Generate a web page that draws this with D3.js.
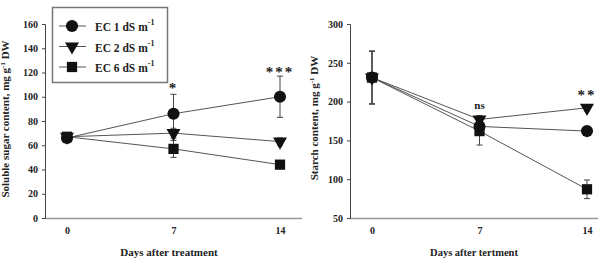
<!DOCTYPE html>
<html>
<head>
  <meta charset="utf-8">
  <style>
    body { margin: 0; background: #fff; }
    text { font-family: "Liberation Serif", serif; font-weight: bold; fill: #222; }
  </style>
</head>
<body>
  <script src="https://d3js.org/d3.v7.min.js"></script>
  <script>
    var days = [0, 7, 14];
    var seriesNames = ["EC 1 dS m", "EC 2 dS m", "EC 6 dS m"];
    var symbols = [d3.symbolCircle, d3.symbolTriangle, d3.symbolSquare];
    var symSizes = [115, 85, 105];

    var sugarEC1 = [66, 86, 100], sugarEC1Err = [2, 16, 17];
    var sugarEC2 = [67, 70, 63], sugarEC2Err = [2, 4, 3];
    var sugarEC6 = [67, 57, 44], sugarEC6Err = [2, 7, 3];
    var sugarTicks = [0, 20, 40, 60, 80, 100, 120, 140, 160];
    var sugarSig = ["", "*", "***"];

    var starchEC1 = [231, 168, 162], starchEC1Err = [34, 5, 4];
    var starchEC2 = [231, 177, 192], starchEC2Err = [34, 5, 4];
    var starchEC6 = [231, 162, 87], starchEC6Err = [34, 18, 12];
    var starchTicks = [50, 100, 150, 200, 250, 300];
    var starchSig = ["", "ns", "**"];

    var svg = d3.select("body").append("svg")
      .attr("width", 613)
      .attr("height", 261);

    function marker(sel, k) {
      return sel.append("path")
        .attr("d", d3.symbol().type(symbols[k]).size(symSizes[k])())
        .attr("fill", "#111");
    }

    function panel(opts) {
      var x = d3.scaleLinear().domain([0, 14]).range(opts.xr);
      var y = d3.scaleLinear().domain(opts.yd).range([218, 24]);
      var g = svg.append("g");

      // x axis line (grey, no ticks)
      g.append("line")
        .attr("x1", opts.ax).attr("x2", opts.xEnd)
        .attr("y1", 218.5).attr("y2", 218.5)
        .attr("stroke", "#999").attr("stroke-width", 1.5);

      var yAxis = g.append("g")
        .attr("transform", "translate(" + opts.ax + ",0)")
        .call(d3.axisLeft(y).tickValues(opts.ticks).tickSize(3).tickPadding(4));
      yAxis.select(".domain").attr("stroke", "#444");
      yAxis.selectAll(".tick line").attr("stroke", "#444");
      yAxis.selectAll("text").style("font-size", "10px").attr("fill", "#222")
        .style("font-family", "Liberation Serif").style("font-weight", "bold");

      var xAxis = g.append("g")
        .attr("transform", "translate(0,218)")
        .call(d3.axisBottom(x).tickValues(days).tickSize(0).tickPadding(9));
      xAxis.select(".domain").remove();
      xAxis.selectAll("text").style("font-size", "10px").attr("fill", "#222")
        .style("font-family", "Liberation Serif").style("font-weight", "bold");

      g.append("text")
        .attr("x", opts.titleX).attr("y", 256)
        .attr("text-anchor", "middle")
        .style("font-size", opts.titleSize)
        .text(opts.xTitle);

      var yt = g.append("text")
        .attr("transform", "translate(" + opts.yTitleX + "," + opts.yTitleY + ") rotate(-90)")
        .attr("text-anchor", "middle")
        .style("font-size", "11px");
      yt.append("tspan").text(opts.yTitle + ", mg g");
      yt.append("tspan").attr("dy", -4).style("font-size", "7px").text("-1");
      yt.append("tspan").attr("dy", 4).text(" DW");

      var line = d3.line()
        .x(function(d, i) { return x(days[i]); })
        .y(function(d) { return y(d); });

      opts.series.forEach(function(s) {
        g.append("path")
          .datum(s.v)
          .attr("d", line)
          .attr("fill", "none")
          .attr("stroke", "#555")
          .attr("stroke-width", 1);
      });

      opts.series.forEach(function(s) {
        s.v.forEach(function(v, i) {
          var cx = x(days[i]);
          g.append("line")
            .attr("x1", cx).attr("x2", cx)
            .attr("y1", y(v - s.e[i])).attr("y2", y(v + s.e[i]))
            .attr("stroke", "#444");
          [v - s.e[i], v + s.e[i]].forEach(function(ev) {
            g.append("line")
              .attr("x1", cx - 3).attr("x2", cx + 3)
              .attr("y1", y(ev)).attr("y2", y(ev))
              .attr("stroke", "#444");
          });
        });
      });

      opts.series.forEach(function(s, k) {
        s.v.forEach(function(v, i) {
          marker(g, k)
            .attr("transform", "translate(" + x(days[i]) + "," + y(v) + ")" + (k === 1 ? " rotate(180)" : ""));
        });
      });

      opts.sig.forEach(function(t, i) {
        if (!t) return;
        g.append("text")
          .attr("x", x(days[i])).attr("y", opts.sigY[i])
          .attr("text-anchor", "middle")
          .style("font-size", t === "ns" ? "11px" : "15px")
          .style("letter-spacing", t === "ns" ? "0px" : "2px")
          .text(t);
      });
    }

    panel({
      xr: [67, 280], ax: 45, xEnd: 302, yd: [0, 160], ticks: sugarTicks,
      series: [
        { v: sugarEC1, e: sugarEC1Err },
        { v: sugarEC2, e: sugarEC2Err },
        { v: sugarEC6, e: sugarEC6Err }
      ],
      sig: sugarSig, sigY: [0, 93, 77],
      xTitle: "Days after treatment", titleX: 169, titleSize: "11px",
      yTitle: "Soluble sugar content", yTitleX: 9, yTitleY: 119
    });

    panel({
      xr: [372, 587], ax: 350, xEnd: 598, yd: [50, 300], ticks: starchTicks,
      series: [
        { v: starchEC1, e: starchEC1Err },
        { v: starchEC2, e: starchEC2Err },
        { v: starchEC6, e: starchEC6Err }
      ],
      sig: starchSig, sigY: [0, 109, 100],
      xTitle: "Days  after tertment", titleX: 474, titleSize: "10.5px",
      yTitle: "Starch content", yTitleX: 318, yTitleY: 118
    });

    // legend
    var legend = svg.append("g");
    legend.append("rect")
      .attr("x", 52.5).attr("y", 7.5).attr("width", 115).attr("height", 75)
      .attr("fill", "#fff").attr("stroke", "#777").attr("stroke-width", 1.5);
    seriesNames.forEach(function(name, k) {
      var ly = 26 + k * 20.5;
      legend.append("line")
        .attr("x1", 59).attr("x2", 86).attr("y1", ly).attr("y2", ly)
        .attr("stroke", "#555");
      marker(legend, k)
        .attr("transform", "translate(72," + ly + ")" + (k === 1 ? " rotate(180)" : ""));
      var t = legend.append("text")
        .attr("x", 95).attr("y", ly + 5)
        .style("font-size", "11.5px");
      t.append("tspan").text(name);
      t.append("tspan").attr("dy", -6).style("font-size", "8px").text("-1");
    });
  </script>
</body>
</html>
